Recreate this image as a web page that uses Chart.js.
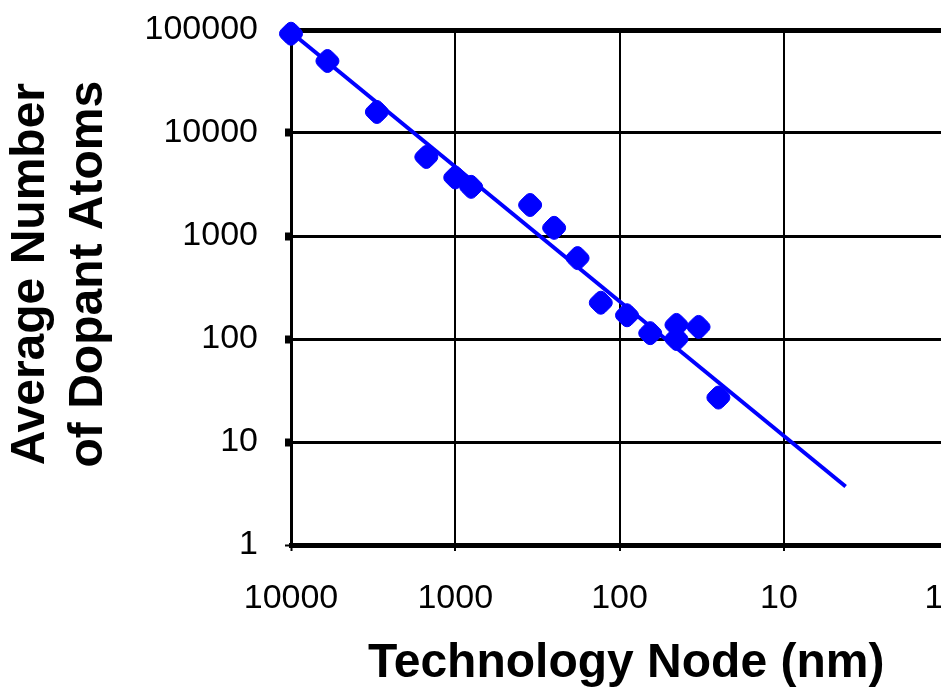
<!DOCTYPE html>
<html>
<head>
<meta charset="utf-8">
<script src="https://cdn.jsdelivr.net/npm/chart.js@4/dist/chart.umd.min.js"></script>
<style>
  html, body { margin: 0; padding: 0; background: #fff; overflow: hidden; }
  #wrap { width: 1000px; height: 695px; }
</style>
</head>
<body>
<div id="wrap"><canvas id="dopantChart" width="1000" height="695"></canvas></div>
<script>
// Dados
const nodeNm = [10000, 6000, 3000, 1500, 1000, 800, 350, 250, 180, 130, 90, 65, 45, 45, 33, 25];
const dopantAtoms = [92000, 50000, 16000, 5850, 3700, 3000, 2000, 1200, 610, 225, 170, 114, 137, 100, 131, 27];

// Linha de tendência (extremos)
const trendNm = [10000, 4.2];
const trendAtoms = [95000, 3.7];

// Marcas dos eixos
const xTicks = [10000, 1000, 100, 10, 1];
const xTickLabels = ["10000", "1000", "100", "10 ", "1   "];
const yTicks = [1, 10, 100, 1000, 10000, 100000];

const blue = "#0000ff";
const font = "'Liberation Sans', Arial, Helvetica, sans-serif";

const points = nodeNm.map((x, i) => ({ x: x, y: dopantAtoms[i] }));
const trend = trendNm.map((x, i) => ({ x: x, y: trendAtoms[i] }));

new Chart(document.getElementById("dopantChart").getContext("2d"), {
  type: "scatter",
  data: {
    datasets: [
      {
        label: "Trend",
        data: trend,
        showLine: true,
        borderColor: blue,
        borderWidth: 4,
        pointRadius: 0,
        clip: false,
        order: 2,
      },
      {
        label: "Dopant atoms",
        data: points,
        pointStyle: "rectRounded",
        rotation: 45,
        pointRadius: 11.5,
        pointHoverRadius: 11.5,
        backgroundColor: blue,
        borderColor: blue,
        borderWidth: 1,
        clip: false,
        order: 1,
      },
    ],
  },
  options: {
    responsive: false,
    animation: false,
    events: [],
    layout: { padding: { top: 30, right: 52, left: 0, bottom: 0 } },
    plugins: {
      legend: { display: false },
      tooltip: { enabled: false },
    },
    scales: {
      x: {
        type: "logarithmic",
        reverse: true,
        min: 1,
        max: 10000,
        afterBuildTicks: (scale) => {
          scale.ticks = xTicks.map((v) => ({ value: v }));
        },
        afterFit: (scale) => {
          scale.height = 150;
          scale.paddingLeft = 0;
          scale.paddingRight = 0;
        },
        ticks: {
          autoSkip: false,
          maxRotation: 0,
          padding: 27,
          color: "#000",
          font: { family: font, size: 34 },
          callback: (value, index) => xTickLabels[index],
        },
        grid: {
          color: "#000",
          lineWidth: (ctx) => (ctx.tick && ctx.tick.value === 10000 ? 3 : 2),
          tickLength: 6,
          tickWidth: 2,
          tickColor: "#000",
        },
        border: { display: true, color: "#000", width: 5 },
        title: {
          display: true,
          text: " Technology Node (nm)",
          color: "#000",
          font: { family: font, size: 48, weight: "bold" },
          padding: { top: 0, bottom: 2 },
        },
      },
      y: {
        type: "logarithmic",
        min: 1,
        max: 100000,
        afterBuildTicks: (scale) => {
          scale.ticks = yTicks.map((v) => ({ value: v }));
        },
        afterFit: (scale) => {
          scale.width = 291;
          scale.paddingTop = 0;
          scale.paddingBottom = 0;
        },
        ticks: {
          autoSkip: false,
          padding: 27,
          color: "#000",
          font: { family: font, size: 34 },
          callback: (value) => String(value),
        },
        grid: {
          color: "#000",
          lineWidth: (ctx) => {
            const v = ctx.tick ? ctx.tick.value : 0;
            return v === 100000 || v === 1 ? 5 : 3;
          },
          tickLength: 6,
          tickWidth: (ctx) => (ctx.tick && ctx.tick.value === 1 ? 2 : 8),
          tickColor: "#000",
        },
        border: { display: true, color: "#000", width: 3 },
        title: {
          display: true,
          text: ["  Average Number", "  of Dopant Atoms"],
          color: "#000",
          font: { family: font, size: 48, weight: "bold", lineHeight: 1.21 },
          padding: { top: 2, bottom: 0 },
        },
      },
    },
  },
});
</script>
</body>
</html>
